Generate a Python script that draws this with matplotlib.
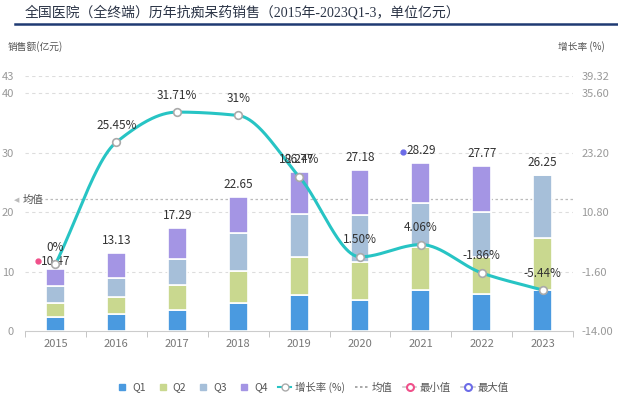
import numpy as np
import matplotlib.pyplot as plt
from matplotlib.lines import Line2D

plt.rcParams['font.family'] = ['Liberation Sans Narrow', 'Noto Sans CJK SC', 'DejaVu Sans']

years = ['2015', '2016', '2017', '2018', '2019', '2020', '2021', '2022', '2023']
q1 = [2.3, 2.8, 3.6, 4.8, 6.0, 5.2, 7.0, 6.3, 7.0]
q2 = [2.5, 2.9, 4.1, 5.4, 6.5, 6.4, 7.2, 6.2, 8.6]
q3 = [2.8, 3.3, 4.5, 6.3, 7.2, 8.0, 7.3, 7.5, 10.65]
q4 = [2.87, 4.13, 5.09, 6.15, 7.07, 7.58, 6.79, 7.77, 0.0]
totals = [10.47, 13.13, 17.29, 22.65, 26.77, 27.18, 28.29, 27.77, 26.25]
growth = [0.0, 25.45, 31.71, 31.0, 18.24, 1.50, 4.06, -1.86, -5.44]
growth_labels = ['0%', '25.45%', '31.71%', '31%', '18.24%', '1.50%', '4.06%', '-1.86%', '-5.44%']

c_q = ['#4a9ae0', '#c9d88f', '#a6bfd9', '#a495e4']
c_line = '#27c4c4'
c_min = '#f0508a'
c_max = '#6c6ce8'
c_grey = '#999999'


def pchip(x, y, xs):
    # monotone cubic, only used to draw the smooth line
    x = np.asarray(x, float)
    y = np.asarray(y, float)
    h = np.diff(x)
    d = np.diff(y) / h
    m = np.zeros_like(y)
    for i in range(1, len(y) - 1):
        if d[i - 1] * d[i] > 0:
            w1 = 2 * h[i] + h[i - 1]
            w2 = h[i] + 2 * h[i - 1]
            m[i] = (w1 + w2) / (w1 / d[i - 1] + w2 / d[i])
    m[0] = d[0]
    m[-1] = d[-1]
    out = []
    for v in xs:
        i = min(max(np.searchsorted(x, v) - 1, 0), len(x) - 2)
        t = (v - x[i]) / h[i]
        h00 = 2 * t**3 - 3 * t**2 + 1
        h10 = t**3 - 2 * t**2 + t
        h01 = -2 * t**3 + 3 * t**2
        h11 = t**3 - t**2
        out.append(h00 * y[i] + h10 * h[i] * m[i] + h01 * y[i + 1] + h11 * h[i] * m[i + 1])
    return np.array(out)


fig = plt.figure(figsize=(6.18, 3.98), dpi=100)
ax = fig.add_axes([0.0405, 0.168, 0.887, 0.642])
ax2 = ax.twinx()

x = np.arange(len(years))
w = 0.31
bottom = np.zeros(len(years))
for vals, col in zip([q1, q2, q3, q4], c_q):
    ax.bar(x, vals, w, bottom=bottom, color=col, edgecolor='white', linewidth=1.2, zorder=2)
    bottom += np.array(vals)

ax.set_xlim(-0.5, len(years) - 0.5)
ax.set_ylim(0, 43)
ax.set_yticks([0, 10, 20, 30, 40, 43])
ax.set_yticklabels(['0', '10', '20', '30', '40', '43'])
ax.set_xticks(x)
ax.set_xticklabels(years)
ax.set_xticks(np.arange(-0.5, len(years)), minor=True)
ax.tick_params(axis='x', which='major', length=0, colors='#777777', labelsize=8, pad=6)
ax.tick_params(axis='x', which='minor', length=4, color='#bbbbbb', direction='out')
ax.tick_params(axis='y', length=0, colors=c_grey, labelsize=8, pad=8)
for yv in [10, 20, 30, 40, 43]:
    ax.axhline(yv, color='#dddddd', linestyle=(0, (3, 3)), linewidth=0.8, zorder=0)
for s in ['top', 'right', 'left']:
    ax.spines[s].set_visible(False)
    ax2.spines[s].set_visible(False)
ax2.spines['bottom'].set_visible(False)
ax.spines['bottom'].set_color('#cccccc')

# mean line
mean_v = np.mean(totals)
ax.axhline(mean_v, color='#bbbbbb', linestyle=(0, (2, 2)), linewidth=0.9, zorder=1)
fig.text(0.022, 1 - 200 / 398, '◀', color='#bbbbbb', fontsize=5, va='center', ha='left',
         family=['DejaVu Sans'])
fig.text(0.036, 1 - 200 / 398, '均值', color='#555555', fontsize=7.5, va='center', ha='left')

# total labels
for i, t in enumerate(totals):
    off = 0.2 if i == 0 else 1.0
    ax.text(i, t + off, f'{t:.2f}', ha='center', va='bottom', fontsize=8.5, color='#333333', zorder=5)

# min / max dots
imin = int(np.argmin(totals))
imax = int(np.argmax(totals))
ax.plot(imin - 0.29, totals[imin] + 1.3, 'o', color=c_min, markersize=3.5, zorder=6)
ax.plot(imax - 0.29, totals[imax] + 1.8, 'o', color=c_max, markersize=3.5, zorder=6)

# growth line (right axis, drawn over the bars)
ax2.set_ylim(-14, 39.32)
ax2.set_yticks([-14, -1.6, 10.8, 23.2, 35.6, 39.32])
ax2.set_yticklabels(['-14.00', '-1.60', '10.80', '23.20', '35.60', '39.32'])
ax2.tick_params(axis='y', length=0, colors=c_grey, labelsize=8, pad=6)
xs = np.linspace(0, len(years) - 1, 400)
ax2.plot(xs, pchip(x, growth, xs), color=c_line, linewidth=2.2, zorder=4)
ax2.plot(x, growth, 'o', markersize=5.5, markerfacecolor='white', markeredgecolor='#aaaaaa',
         markeredgewidth=1.2, zorder=5)
for i, (g, lab) in enumerate(zip(growth, growth_labels)):
    ax2.text(i, g + 2.2, lab, ha='center', va='bottom', fontsize=8.5, color='#333333', zorder=6)

# titles
fig.text(0.04, 1 - 12 / 398, '全国医院（全终端）历年抗痴呆药销售（2015年-2023Q1-3，单位亿元）',
         fontsize=10, color='#2b3446', va='center', ha='left',
         family=['Liberation Serif', 'Noto Sans CJK SC'])
fig.add_artist(Line2D([15 / 618, 1.0], [1 - 24 / 398, 1 - 24 / 398], color='#1f3a73', linewidth=1.8))
fig.text(8 / 618, 1 - 47 / 398, '销售额(亿元)', fontsize=7, color='#555555', va='center', ha='left')
fig.text(605 / 618, 1 - 47 / 398, '增长率 (%)', fontsize=7, color='#555555', va='center', ha='right')

# legend
handles = [
    Line2D([], [], marker='s', linestyle='none', color=c_q[0], markersize=5),
    Line2D([], [], marker='s', linestyle='none', color=c_q[1], markersize=5),
    Line2D([], [], marker='s', linestyle='none', color=c_q[2], markersize=5),
    Line2D([], [], marker='s', linestyle='none', color=c_q[3], markersize=5),
    Line2D([], [], color=c_line, linewidth=1.5, marker='o', markerfacecolor='white',
           markeredgecolor='#aaaaaa', markersize=5),
    Line2D([], [], color='#999999', linestyle=(0, (1.5, 1.5)), linewidth=1.2),
    Line2D([], [], color='#cccccc', linewidth=1.2, marker='o', markerfacecolor='white',
           markeredgecolor=c_min, markeredgewidth=1.5, markersize=5),
    Line2D([], [], color='#cccccc', linewidth=1.2, marker='o', markerfacecolor='white',
           markeredgecolor=c_max, markeredgewidth=1.5, markersize=5),
]
labels = ['Q1', 'Q2', 'Q3', 'Q4', '增长率 (%)', '均值', '最小值', '最大值']
leg = fig.legend(handles, labels, loc='center', bbox_to_anchor=(0.505, 1 - 387 / 398), ncol=8,
                 frameon=False, fontsize=7.5, handlelength=1.3, handletextpad=0.3,
                 columnspacing=1.0, labelcolor='#555555')

fig.savefig('out.png', dpi=100)
